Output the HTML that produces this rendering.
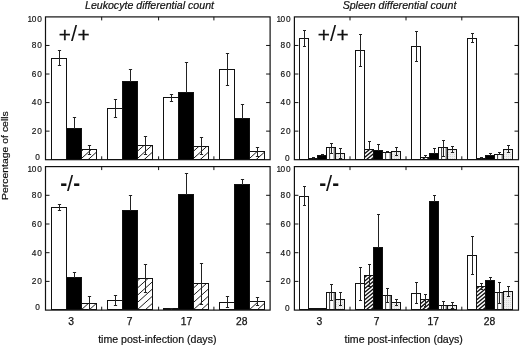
<!DOCTYPE html>
<html><head><meta charset="utf-8"><title>Differential count</title>
<style>
html,body{margin:0;padding:0;background:#fff;}
body{width:520px;height:347px;overflow:hidden;font-family:"Liberation Sans",sans-serif;}
svg{display:block;will-change:transform;}
text{font-family:"Liberation Sans",sans-serif;fill:#111;}
.t{stroke:#111;stroke-width:1;}
.e{stroke:#222;stroke-width:1;}
.yl{font-size:8.3px;text-anchor:end;letter-spacing:0.9px;stroke:#111;stroke-width:0.15px;}
.xl{font-size:10.3px;text-anchor:middle;stroke:#111;stroke-width:0.25px;}
.ax{font-size:10.6px;text-anchor:middle;stroke:#111;stroke-width:0.2px;}
.ti{font-size:10.6px;font-style:italic;text-anchor:middle;stroke:#111;stroke-width:0.2px;}
.gp{font-size:22px;}
.pl{font-size:20.8px;text-anchor:middle;stroke:#111;stroke-width:0.3px;}
.hy{stroke:#111;stroke-width:0.5px;}
</style></head>
<body>
<svg width="520" height="347" viewBox="0 0 520 347">
<defs>
<pattern id="h1" width="5" height="5" patternUnits="userSpaceOnUse" patternTransform="rotate(-50)">
<rect width="5" height="5" fill="#fff"/><line x1="0" y1="2.5" x2="5" y2="2.5" stroke="#111" stroke-width="1.1"/></pattern>
<pattern id="h2" width="2.5" height="2.5" patternUnits="userSpaceOnUse" patternTransform="rotate(-45)">
<rect width="2.5" height="2.5" fill="#fff"/><line x1="0" y1="1.25" x2="2.5" y2="1.25" stroke="#111" stroke-width="1.25"/></pattern>
<pattern id="vs" width="3" height="3" patternUnits="userSpaceOnUse">
<rect width="3" height="3" fill="#fff"/></pattern>
<pattern id="gd" width="2" height="2" patternUnits="userSpaceOnUse">
<rect width="2" height="2" fill="#f0f0f0"/><rect width="1" height="1" fill="#d6d6d6"/></pattern>
</defs>
<rect width="520" height="347" fill="#fff"/>
<rect x="45.5" y="16.9" width="224.60000000000002" height="142.79999999999998" fill="#fff" stroke="#111" stroke-width="1.2"/>
<line x1="45.5" y1="131.14" x2="49.5" y2="131.14" class="t"/>
<line x1="270.1" y1="131.14" x2="266.1" y2="131.14" class="t"/>
<line x1="45.5" y1="102.58" x2="49.5" y2="102.58" class="t"/>
<line x1="270.1" y1="102.58" x2="266.1" y2="102.58" class="t"/>
<line x1="45.5" y1="74.02" x2="49.5" y2="74.02" class="t"/>
<line x1="270.1" y1="74.02" x2="266.1" y2="74.02" class="t"/>
<line x1="45.5" y1="45.46" x2="49.5" y2="45.46" class="t"/>
<line x1="270.1" y1="45.46" x2="266.1" y2="45.46" class="t"/>
<line x1="101.7" y1="16.9" x2="101.7" y2="20.4" class="t"/>
<line x1="101.7" y1="159.7" x2="101.7" y2="156.29999999999998" class="t"/>
<line x1="158.6" y1="16.9" x2="158.6" y2="20.4" class="t"/>
<line x1="158.6" y1="159.7" x2="158.6" y2="156.29999999999998" class="t"/>
<line x1="213.9" y1="16.9" x2="213.9" y2="20.4" class="t"/>
<line x1="213.9" y1="159.7" x2="213.9" y2="156.29999999999998" class="t"/>
<text x="40.75" y="159.70" class="yl">0</text>
<text x="42.75" y="133.94" class="yl">20</text>
<text x="42.75" y="105.38" class="yl">40</text>
<text x="42.75" y="76.82" class="yl">60</text>
<text x="42.75" y="48.26" class="yl">80</text>
<text x="42.75" y="22.10" class="yl"><tspan letter-spacing="-0.4">1</tspan>00</text>
<rect x="45.5" y="166.6" width="224.60000000000002" height="143.50000000000003" fill="#fff" stroke="#111" stroke-width="1.2"/>
<line x1="45.5" y1="281.40" x2="49.5" y2="281.40" class="t"/>
<line x1="270.1" y1="281.40" x2="266.1" y2="281.40" class="t"/>
<line x1="45.5" y1="252.70" x2="49.5" y2="252.70" class="t"/>
<line x1="270.1" y1="252.70" x2="266.1" y2="252.70" class="t"/>
<line x1="45.5" y1="224.00" x2="49.5" y2="224.00" class="t"/>
<line x1="270.1" y1="224.00" x2="266.1" y2="224.00" class="t"/>
<line x1="45.5" y1="195.30" x2="49.5" y2="195.30" class="t"/>
<line x1="270.1" y1="195.30" x2="266.1" y2="195.30" class="t"/>
<line x1="101.7" y1="166.6" x2="101.7" y2="170.1" class="t"/>
<line x1="101.7" y1="310.1" x2="101.7" y2="306.70000000000005" class="t"/>
<line x1="158.6" y1="166.6" x2="158.6" y2="170.1" class="t"/>
<line x1="158.6" y1="310.1" x2="158.6" y2="306.70000000000005" class="t"/>
<line x1="213.9" y1="166.6" x2="213.9" y2="170.1" class="t"/>
<line x1="213.9" y1="310.1" x2="213.9" y2="306.70000000000005" class="t"/>
<text x="40.75" y="310.10" class="yl">0</text>
<text x="42.75" y="284.20" class="yl">20</text>
<text x="42.75" y="255.50" class="yl">40</text>
<text x="42.75" y="226.80" class="yl">60</text>
<text x="42.75" y="198.10" class="yl">80</text>
<text x="42.75" y="171.80" class="yl"><tspan letter-spacing="-0.4">1</tspan>00</text>
<rect x="294.4" y="16.9" width="224.10000000000002" height="142.79999999999998" fill="#fff" stroke="#111" stroke-width="1.2"/>
<line x1="294.4" y1="131.14" x2="298.4" y2="131.14" class="t"/>
<line x1="518.5" y1="131.14" x2="514.5" y2="131.14" class="t"/>
<line x1="294.4" y1="102.58" x2="298.4" y2="102.58" class="t"/>
<line x1="518.5" y1="102.58" x2="514.5" y2="102.58" class="t"/>
<line x1="294.4" y1="74.02" x2="298.4" y2="74.02" class="t"/>
<line x1="518.5" y1="74.02" x2="514.5" y2="74.02" class="t"/>
<line x1="294.4" y1="45.46" x2="298.4" y2="45.46" class="t"/>
<line x1="518.5" y1="45.46" x2="514.5" y2="45.46" class="t"/>
<line x1="350.0" y1="16.9" x2="350.0" y2="20.4" class="t"/>
<line x1="350.0" y1="159.7" x2="350.0" y2="156.29999999999998" class="t"/>
<line x1="406.0" y1="16.9" x2="406.0" y2="20.4" class="t"/>
<line x1="406.0" y1="159.7" x2="406.0" y2="156.29999999999998" class="t"/>
<line x1="461.8" y1="16.9" x2="461.8" y2="20.4" class="t"/>
<line x1="461.8" y1="159.7" x2="461.8" y2="156.29999999999998" class="t"/>
<text x="290.55" y="160.80" class="yl">0</text>
<text x="291.65" y="133.94" class="yl">20</text>
<text x="291.65" y="105.38" class="yl">40</text>
<text x="291.65" y="76.82" class="yl">60</text>
<text x="291.65" y="48.26" class="yl">80</text>
<text x="291.65" y="22.10" class="yl"><tspan letter-spacing="-0.4">1</tspan>00</text>
<rect x="294.4" y="166.6" width="224.10000000000002" height="143.50000000000003" fill="#fff" stroke="#111" stroke-width="1.2"/>
<line x1="294.4" y1="281.40" x2="298.4" y2="281.40" class="t"/>
<line x1="518.5" y1="281.40" x2="514.5" y2="281.40" class="t"/>
<line x1="294.4" y1="252.70" x2="298.4" y2="252.70" class="t"/>
<line x1="518.5" y1="252.70" x2="514.5" y2="252.70" class="t"/>
<line x1="294.4" y1="224.00" x2="298.4" y2="224.00" class="t"/>
<line x1="518.5" y1="224.00" x2="514.5" y2="224.00" class="t"/>
<line x1="294.4" y1="195.30" x2="298.4" y2="195.30" class="t"/>
<line x1="518.5" y1="195.30" x2="514.5" y2="195.30" class="t"/>
<line x1="350.0" y1="166.6" x2="350.0" y2="170.1" class="t"/>
<line x1="350.0" y1="310.1" x2="350.0" y2="306.70000000000005" class="t"/>
<line x1="406.0" y1="166.6" x2="406.0" y2="170.1" class="t"/>
<line x1="406.0" y1="310.1" x2="406.0" y2="306.70000000000005" class="t"/>
<line x1="461.8" y1="166.6" x2="461.8" y2="170.1" class="t"/>
<line x1="461.8" y1="310.1" x2="461.8" y2="306.70000000000005" class="t"/>
<text x="290.55" y="310.90" class="yl">0</text>
<text x="291.65" y="284.20" class="yl">20</text>
<text x="291.65" y="255.50" class="yl">40</text>
<text x="291.65" y="226.80" class="yl">60</text>
<text x="291.65" y="198.10" class="yl">80</text>
<text x="291.65" y="171.80" class="yl"><tspan letter-spacing="-0.4">1</tspan>00</text>
<rect x="51.5" y="58.5" width="15.0" height="101.0" fill="#fff" stroke="#111" stroke-width="1"/>
<line x1="59.5" y1="50.0" x2="59.5" y2="66.0" class="e"/>
<line x1="57.9" y1="50.5" x2="61.1" y2="50.5" class="e"/>
<line x1="57.9" y1="65.5" x2="61.1" y2="65.5" class="e"/>
<rect x="66.5" y="128.5" width="15.0" height="31.0" fill="#000" stroke="#111" stroke-width="1"/>
<line x1="74.5" y1="117.0" x2="74.5" y2="129.0" class="e"/>
<line x1="72.9" y1="117.5" x2="76.1" y2="117.5" class="e"/>
<clipPath id="c1"><rect x="81.5" y="149.5" width="15.0" height="10.0"/></clipPath>
<rect x="81.5" y="149.5" width="15.0" height="10.0" fill="#fff"/>
<g clip-path="url(#c1)" stroke="#111" stroke-width="0.95">
<line x1="80.5" y1="144.90" x2="97.5" y2="129.59"/>
<line x1="80.5" y1="152.10" x2="97.5" y2="136.79"/>
<line x1="80.5" y1="159.30" x2="97.5" y2="143.99"/>
<line x1="80.5" y1="166.50" x2="97.5" y2="151.19"/>
<line x1="80.5" y1="173.70" x2="97.5" y2="158.39"/>
<line x1="80.5" y1="180.90" x2="97.5" y2="165.59"/>
</g>
<rect x="81.5" y="149.5" width="15.0" height="10.0" fill="none" stroke="#111" stroke-width="1"/>
<line x1="89.5" y1="145.0" x2="89.5" y2="155.0" class="e"/>
<line x1="87.9" y1="145.5" x2="91.1" y2="145.5" class="e"/>
<line x1="87.9" y1="154.5" x2="91.1" y2="154.5" class="e"/>
<rect x="107.5" y="108.5" width="15.0" height="51.0" fill="#fff" stroke="#111" stroke-width="1"/>
<line x1="115.5" y1="99.0" x2="115.5" y2="118.0" class="e"/>
<line x1="113.9" y1="99.5" x2="117.1" y2="99.5" class="e"/>
<line x1="113.9" y1="117.5" x2="117.1" y2="117.5" class="e"/>
<rect x="122.5" y="81.5" width="15.0" height="78.0" fill="#000" stroke="#111" stroke-width="1"/>
<line x1="130.5" y1="69.0" x2="130.5" y2="82.0" class="e"/>
<line x1="128.9" y1="69.5" x2="132.1" y2="69.5" class="e"/>
<clipPath id="c2"><rect x="137.5" y="145.5" width="15.0" height="14.0"/></clipPath>
<rect x="137.5" y="145.5" width="15.0" height="14.0" fill="#fff"/>
<g clip-path="url(#c2)" stroke="#111" stroke-width="0.95">
<line x1="136.5" y1="137.70" x2="153.5" y2="122.39"/>
<line x1="136.5" y1="144.90" x2="153.5" y2="129.59"/>
<line x1="136.5" y1="152.10" x2="153.5" y2="136.79"/>
<line x1="136.5" y1="159.30" x2="153.5" y2="143.99"/>
<line x1="136.5" y1="166.50" x2="153.5" y2="151.19"/>
<line x1="136.5" y1="173.70" x2="153.5" y2="158.39"/>
<line x1="136.5" y1="180.90" x2="153.5" y2="165.59"/>
</g>
<rect x="137.5" y="145.5" width="15.0" height="14.0" fill="none" stroke="#111" stroke-width="1"/>
<line x1="145.5" y1="136.0" x2="145.5" y2="155.0" class="e"/>
<line x1="143.9" y1="136.5" x2="147.1" y2="136.5" class="e"/>
<line x1="143.9" y1="154.5" x2="147.1" y2="154.5" class="e"/>
<rect x="163.5" y="97.5" width="15.0" height="62.0" fill="#fff" stroke="#111" stroke-width="1"/>
<line x1="171.5" y1="94.0" x2="171.5" y2="102.0" class="e"/>
<line x1="169.9" y1="94.5" x2="173.1" y2="94.5" class="e"/>
<line x1="169.9" y1="101.5" x2="173.1" y2="101.5" class="e"/>
<rect x="178.5" y="92.5" width="15.0" height="67.0" fill="#000" stroke="#111" stroke-width="1"/>
<line x1="186.5" y1="62.0" x2="186.5" y2="93.0" class="e"/>
<line x1="184.9" y1="62.5" x2="188.1" y2="62.5" class="e"/>
<clipPath id="c3"><rect x="193.5" y="146.5" width="15.0" height="13.0"/></clipPath>
<rect x="193.5" y="146.5" width="15.0" height="13.0" fill="#fff"/>
<g clip-path="url(#c3)" stroke="#111" stroke-width="0.95">
<line x1="192.5" y1="144.90" x2="209.5" y2="129.59"/>
<line x1="192.5" y1="152.10" x2="209.5" y2="136.79"/>
<line x1="192.5" y1="159.30" x2="209.5" y2="143.99"/>
<line x1="192.5" y1="166.50" x2="209.5" y2="151.19"/>
<line x1="192.5" y1="173.70" x2="209.5" y2="158.39"/>
<line x1="192.5" y1="180.90" x2="209.5" y2="165.59"/>
</g>
<rect x="193.5" y="146.5" width="15.0" height="13.0" fill="none" stroke="#111" stroke-width="1"/>
<line x1="201.5" y1="137.0" x2="201.5" y2="155.0" class="e"/>
<line x1="199.9" y1="137.5" x2="203.1" y2="137.5" class="e"/>
<line x1="199.9" y1="154.5" x2="203.1" y2="154.5" class="e"/>
<rect x="219.5" y="69.5" width="15.0" height="90.0" fill="#fff" stroke="#111" stroke-width="1"/>
<line x1="227.5" y1="53.0" x2="227.5" y2="86.0" class="e"/>
<line x1="225.9" y1="53.5" x2="229.1" y2="53.5" class="e"/>
<line x1="225.9" y1="85.5" x2="229.1" y2="85.5" class="e"/>
<rect x="234.5" y="118.5" width="15.0" height="41.0" fill="#000" stroke="#111" stroke-width="1"/>
<line x1="242.5" y1="104.0" x2="242.5" y2="119.0" class="e"/>
<line x1="240.9" y1="104.5" x2="244.1" y2="104.5" class="e"/>
<clipPath id="c4"><rect x="249.5" y="151.5" width="15.0" height="8.0"/></clipPath>
<rect x="249.5" y="151.5" width="15.0" height="8.0" fill="#fff"/>
<g clip-path="url(#c4)" stroke="#111" stroke-width="0.95">
<line x1="248.5" y1="144.90" x2="265.5" y2="129.59"/>
<line x1="248.5" y1="152.10" x2="265.5" y2="136.79"/>
<line x1="248.5" y1="159.30" x2="265.5" y2="143.99"/>
<line x1="248.5" y1="166.50" x2="265.5" y2="151.19"/>
<line x1="248.5" y1="173.70" x2="265.5" y2="158.39"/>
<line x1="248.5" y1="180.90" x2="265.5" y2="165.59"/>
</g>
<rect x="249.5" y="151.5" width="15.0" height="8.0" fill="none" stroke="#111" stroke-width="1"/>
<line x1="257.5" y1="147.0" x2="257.5" y2="157.0" class="e"/>
<line x1="255.89999999999998" y1="147.5" x2="259.1" y2="147.5" class="e"/>
<line x1="255.89999999999998" y1="156.5" x2="259.1" y2="156.5" class="e"/>
<rect x="51.5" y="207.5" width="15.0" height="102.0" fill="#fff" stroke="#111" stroke-width="1"/>
<line x1="59.5" y1="204.0" x2="59.5" y2="211.0" class="e"/>
<line x1="57.9" y1="204.5" x2="61.1" y2="204.5" class="e"/>
<line x1="57.9" y1="210.5" x2="61.1" y2="210.5" class="e"/>
<rect x="66.5" y="277.5" width="15.0" height="32.0" fill="#000" stroke="#111" stroke-width="1"/>
<line x1="74.5" y1="272.0" x2="74.5" y2="278.0" class="e"/>
<line x1="72.9" y1="272.5" x2="76.1" y2="272.5" class="e"/>
<clipPath id="c5"><rect x="81.5" y="303.5" width="15.0" height="6.0"/></clipPath>
<rect x="81.5" y="303.5" width="15.0" height="6.0" fill="#fff"/>
<g clip-path="url(#c5)" stroke="#111" stroke-width="0.95">
<line x1="80.5" y1="296.10" x2="97.5" y2="280.79"/>
<line x1="80.5" y1="303.30" x2="97.5" y2="287.99"/>
<line x1="80.5" y1="310.50" x2="97.5" y2="295.19"/>
<line x1="80.5" y1="317.70" x2="97.5" y2="302.39"/>
<line x1="80.5" y1="324.90" x2="97.5" y2="309.59"/>
<line x1="80.5" y1="332.10" x2="97.5" y2="316.79"/>
</g>
<rect x="81.5" y="303.5" width="15.0" height="6.0" fill="none" stroke="#111" stroke-width="1"/>
<line x1="89.5" y1="296.0" x2="89.5" y2="310.0" class="e"/>
<line x1="87.9" y1="296.5" x2="91.1" y2="296.5" class="e"/>
<line x1="87.9" y1="309.5" x2="91.1" y2="309.5" class="e"/>
<rect x="107.5" y="300.5" width="15.0" height="9.0" fill="#fff" stroke="#111" stroke-width="1"/>
<line x1="115.5" y1="295.0" x2="115.5" y2="306.0" class="e"/>
<line x1="113.9" y1="295.5" x2="117.1" y2="295.5" class="e"/>
<line x1="113.9" y1="305.5" x2="117.1" y2="305.5" class="e"/>
<rect x="122.5" y="210.5" width="15.0" height="99.0" fill="#000" stroke="#111" stroke-width="1"/>
<line x1="130.5" y1="195.0" x2="130.5" y2="211.0" class="e"/>
<line x1="128.9" y1="195.5" x2="132.1" y2="195.5" class="e"/>
<clipPath id="c6"><rect x="137.5" y="278.5" width="15.0" height="31.0"/></clipPath>
<rect x="137.5" y="278.5" width="15.0" height="31.0" fill="#fff"/>
<g clip-path="url(#c6)" stroke="#111" stroke-width="0.95">
<line x1="136.5" y1="274.50" x2="153.5" y2="259.19"/>
<line x1="136.5" y1="281.70" x2="153.5" y2="266.39"/>
<line x1="136.5" y1="288.90" x2="153.5" y2="273.59"/>
<line x1="136.5" y1="296.10" x2="153.5" y2="280.79"/>
<line x1="136.5" y1="303.30" x2="153.5" y2="287.99"/>
<line x1="136.5" y1="310.50" x2="153.5" y2="295.19"/>
<line x1="136.5" y1="317.70" x2="153.5" y2="302.39"/>
<line x1="136.5" y1="324.90" x2="153.5" y2="309.59"/>
<line x1="136.5" y1="332.10" x2="153.5" y2="316.79"/>
</g>
<rect x="137.5" y="278.5" width="15.0" height="31.0" fill="none" stroke="#111" stroke-width="1"/>
<line x1="145.5" y1="264.0" x2="145.5" y2="293.0" class="e"/>
<line x1="143.9" y1="264.5" x2="147.1" y2="264.5" class="e"/>
<line x1="143.9" y1="292.5" x2="147.1" y2="292.5" class="e"/>
<rect x="163.5" y="308.5" width="15.0" height="1.0" fill="#fff" stroke="#111" stroke-width="1"/>
<line x1="171.5" y1="308.0" x2="171.5" y2="310.0" class="e"/>
<line x1="169.9" y1="308.5" x2="173.1" y2="308.5" class="e"/>
<rect x="178.5" y="194.5" width="15.0" height="115.0" fill="#000" stroke="#111" stroke-width="1"/>
<line x1="186.5" y1="173.0" x2="186.5" y2="195.0" class="e"/>
<line x1="184.9" y1="173.5" x2="188.1" y2="173.5" class="e"/>
<clipPath id="c7"><rect x="193.5" y="283.5" width="15.0" height="26.0"/></clipPath>
<rect x="193.5" y="283.5" width="15.0" height="26.0" fill="#fff"/>
<g clip-path="url(#c7)" stroke="#111" stroke-width="0.95">
<line x1="192.5" y1="281.70" x2="209.5" y2="266.39"/>
<line x1="192.5" y1="288.90" x2="209.5" y2="273.59"/>
<line x1="192.5" y1="296.10" x2="209.5" y2="280.79"/>
<line x1="192.5" y1="303.30" x2="209.5" y2="287.99"/>
<line x1="192.5" y1="310.50" x2="209.5" y2="295.19"/>
<line x1="192.5" y1="317.70" x2="209.5" y2="302.39"/>
<line x1="192.5" y1="324.90" x2="209.5" y2="309.59"/>
<line x1="192.5" y1="332.10" x2="209.5" y2="316.79"/>
</g>
<rect x="193.5" y="283.5" width="15.0" height="26.0" fill="none" stroke="#111" stroke-width="1"/>
<line x1="201.5" y1="263.0" x2="201.5" y2="305.0" class="e"/>
<line x1="199.9" y1="263.5" x2="203.1" y2="263.5" class="e"/>
<line x1="199.9" y1="304.5" x2="203.1" y2="304.5" class="e"/>
<rect x="219.5" y="302.5" width="15.0" height="7.0" fill="#fff" stroke="#111" stroke-width="1"/>
<line x1="227.5" y1="296.0" x2="227.5" y2="308.0" class="e"/>
<line x1="225.9" y1="296.5" x2="229.1" y2="296.5" class="e"/>
<line x1="225.9" y1="307.5" x2="229.1" y2="307.5" class="e"/>
<rect x="234.5" y="184.5" width="15.0" height="125.0" fill="#000" stroke="#111" stroke-width="1"/>
<line x1="242.5" y1="179.0" x2="242.5" y2="185.0" class="e"/>
<line x1="240.9" y1="179.5" x2="244.1" y2="179.5" class="e"/>
<clipPath id="c8"><rect x="249.5" y="301.5" width="15.0" height="8.0"/></clipPath>
<rect x="249.5" y="301.5" width="15.0" height="8.0" fill="#fff"/>
<g clip-path="url(#c8)" stroke="#111" stroke-width="0.95">
<line x1="248.5" y1="296.10" x2="265.5" y2="280.79"/>
<line x1="248.5" y1="303.30" x2="265.5" y2="287.99"/>
<line x1="248.5" y1="310.50" x2="265.5" y2="295.19"/>
<line x1="248.5" y1="317.70" x2="265.5" y2="302.39"/>
<line x1="248.5" y1="324.90" x2="265.5" y2="309.59"/>
<line x1="248.5" y1="332.10" x2="265.5" y2="316.79"/>
</g>
<rect x="249.5" y="301.5" width="15.0" height="8.0" fill="none" stroke="#111" stroke-width="1"/>
<line x1="257.5" y1="297.0" x2="257.5" y2="306.0" class="e"/>
<line x1="255.89999999999998" y1="297.5" x2="259.1" y2="297.5" class="e"/>
<line x1="255.89999999999998" y1="305.5" x2="259.1" y2="305.5" class="e"/>
<rect x="299.5" y="38.5" width="9.0" height="121.0" fill="#fff" stroke="#111" stroke-width="1"/>
<line x1="304.5" y1="30.0" x2="304.5" y2="47.0" class="e"/>
<line x1="303.0" y1="30.5" x2="306.0" y2="30.5" class="e"/>
<line x1="303.0" y1="46.5" x2="306.0" y2="46.5" class="e"/>
<clipPath id="c9"><rect x="308.5" y="158.5" width="9.0" height="1.0"/></clipPath>
<rect x="308.5" y="158.5" width="9.0" height="1.0" fill="#fff"/>
<g clip-path="url(#c9)" stroke="#111" stroke-width="1.3">
<line x1="307.5" y1="154.59" x2="318.5" y2="145.36"/>
<line x1="307.5" y1="158.34" x2="318.5" y2="149.11"/>
<line x1="307.5" y1="162.09" x2="318.5" y2="152.86"/>
<line x1="307.5" y1="165.84" x2="318.5" y2="156.61"/>
<line x1="307.5" y1="169.59" x2="318.5" y2="160.36"/>
<line x1="307.5" y1="173.34" x2="318.5" y2="164.11"/>
</g>
<rect x="308.5" y="158.5" width="9.0" height="1.0" fill="none" stroke="#111" stroke-width="1"/>
<line x1="313.5" y1="157.0" x2="313.5" y2="159.0" class="e"/>
<line x1="312.0" y1="157.5" x2="315.0" y2="157.5" class="e"/>
<rect x="317.5" y="155.5" width="9.0" height="4.0" fill="#000" stroke="#111" stroke-width="1"/>
<line x1="322.5" y1="154.0" x2="322.5" y2="156.0" class="e"/>
<line x1="321.0" y1="154.5" x2="324.0" y2="154.5" class="e"/>
<rect x="326.5" y="147.5" width="9.0" height="12.0" fill="#fff" stroke="#111" stroke-width="1"/>
<line x1="329.60" y1="147.5" x2="329.60" y2="159.5" stroke="#222" stroke-width="0.9"/>
<line x1="334.20" y1="147.5" x2="334.20" y2="159.5" stroke="#222" stroke-width="0.9"/>
<line x1="331.5" y1="143.0" x2="331.5" y2="154.0" class="e"/>
<line x1="330.0" y1="143.5" x2="333.0" y2="143.5" class="e"/>
<line x1="330.0" y1="153.5" x2="333.0" y2="153.5" class="e"/>
<rect x="335.5" y="153.5" width="9.0" height="6.0" fill="url(#gd)" stroke="#111" stroke-width="1"/>
<line x1="340.5" y1="148.0" x2="340.5" y2="159.0" class="e"/>
<line x1="339.0" y1="148.5" x2="342.0" y2="148.5" class="e"/>
<line x1="339.0" y1="158.5" x2="342.0" y2="158.5" class="e"/>
<rect x="355.5" y="50.5" width="9.0" height="109.0" fill="#fff" stroke="#111" stroke-width="1"/>
<line x1="360.5" y1="34.0" x2="360.5" y2="67.0" class="e"/>
<line x1="359.0" y1="34.5" x2="362.0" y2="34.5" class="e"/>
<line x1="359.0" y1="66.5" x2="362.0" y2="66.5" class="e"/>
<clipPath id="c10"><rect x="364.5" y="149.5" width="9.0" height="10.0"/></clipPath>
<rect x="364.5" y="149.5" width="9.0" height="10.0" fill="#fff"/>
<g clip-path="url(#c10)" stroke="#111" stroke-width="1.3">
<line x1="363.5" y1="147.09" x2="374.5" y2="137.86"/>
<line x1="363.5" y1="150.84" x2="374.5" y2="141.61"/>
<line x1="363.5" y1="154.59" x2="374.5" y2="145.36"/>
<line x1="363.5" y1="158.34" x2="374.5" y2="149.11"/>
<line x1="363.5" y1="162.09" x2="374.5" y2="152.86"/>
<line x1="363.5" y1="165.84" x2="374.5" y2="156.61"/>
<line x1="363.5" y1="169.59" x2="374.5" y2="160.36"/>
<line x1="363.5" y1="173.34" x2="374.5" y2="164.11"/>
</g>
<rect x="364.5" y="149.5" width="9.0" height="10.0" fill="none" stroke="#111" stroke-width="1"/>
<line x1="369.5" y1="141.0" x2="369.5" y2="150.0" class="e"/>
<line x1="368.0" y1="141.5" x2="371.0" y2="141.5" class="e"/>
<rect x="373.5" y="150.5" width="9.0" height="9.0" fill="#000" stroke="#111" stroke-width="1"/>
<line x1="378.5" y1="144.0" x2="378.5" y2="151.0" class="e"/>
<line x1="377.0" y1="144.5" x2="380.0" y2="144.5" class="e"/>
<rect x="382.5" y="152.5" width="9.0" height="7.0" fill="#fff" stroke="#111" stroke-width="1"/>
<line x1="385.60" y1="152.5" x2="385.60" y2="159.5" stroke="#222" stroke-width="0.9"/>
<line x1="390.20" y1="152.5" x2="390.20" y2="159.5" stroke="#222" stroke-width="0.9"/>
<line x1="387.5" y1="151.0" x2="387.5" y2="153.0" class="e"/>
<line x1="386.0" y1="151.5" x2="389.0" y2="151.5" class="e"/>
<rect x="391.5" y="151.5" width="9.0" height="8.0" fill="url(#gd)" stroke="#111" stroke-width="1"/>
<line x1="396.5" y1="147.0" x2="396.5" y2="156.0" class="e"/>
<line x1="395.0" y1="147.5" x2="398.0" y2="147.5" class="e"/>
<line x1="395.0" y1="155.5" x2="398.0" y2="155.5" class="e"/>
<rect x="411.5" y="46.5" width="9.0" height="113.0" fill="#fff" stroke="#111" stroke-width="1"/>
<line x1="416.5" y1="31.0" x2="416.5" y2="62.0" class="e"/>
<line x1="415.0" y1="31.5" x2="418.0" y2="31.5" class="e"/>
<line x1="415.0" y1="61.5" x2="418.0" y2="61.5" class="e"/>
<clipPath id="c11"><rect x="420.5" y="157.5" width="9.0" height="2.0"/></clipPath>
<rect x="420.5" y="157.5" width="9.0" height="2.0" fill="#fff"/>
<g clip-path="url(#c11)" stroke="#111" stroke-width="1.3">
<line x1="419.5" y1="154.59" x2="430.5" y2="145.36"/>
<line x1="419.5" y1="158.34" x2="430.5" y2="149.11"/>
<line x1="419.5" y1="162.09" x2="430.5" y2="152.86"/>
<line x1="419.5" y1="165.84" x2="430.5" y2="156.61"/>
<line x1="419.5" y1="169.59" x2="430.5" y2="160.36"/>
<line x1="419.5" y1="173.34" x2="430.5" y2="164.11"/>
</g>
<rect x="420.5" y="157.5" width="9.0" height="2.0" fill="none" stroke="#111" stroke-width="1"/>
<line x1="425.5" y1="155.0" x2="425.5" y2="158.0" class="e"/>
<line x1="424.0" y1="155.5" x2="427.0" y2="155.5" class="e"/>
<rect x="429.5" y="153.5" width="9.0" height="6.0" fill="#000" stroke="#111" stroke-width="1"/>
<line x1="434.5" y1="148.0" x2="434.5" y2="154.0" class="e"/>
<line x1="433.0" y1="148.5" x2="436.0" y2="148.5" class="e"/>
<rect x="438.5" y="147.5" width="9.0" height="12.0" fill="#fff" stroke="#111" stroke-width="1"/>
<line x1="441.60" y1="147.5" x2="441.60" y2="159.5" stroke="#222" stroke-width="0.9"/>
<line x1="446.20" y1="147.5" x2="446.20" y2="159.5" stroke="#222" stroke-width="0.9"/>
<line x1="443.5" y1="140.0" x2="443.5" y2="157.0" class="e"/>
<line x1="442.0" y1="140.5" x2="445.0" y2="140.5" class="e"/>
<line x1="442.0" y1="156.5" x2="445.0" y2="156.5" class="e"/>
<rect x="447.5" y="149.5" width="9.0" height="10.0" fill="url(#gd)" stroke="#111" stroke-width="1"/>
<line x1="452.5" y1="146.0" x2="452.5" y2="153.0" class="e"/>
<line x1="451.0" y1="146.5" x2="454.0" y2="146.5" class="e"/>
<line x1="451.0" y1="152.5" x2="454.0" y2="152.5" class="e"/>
<rect x="467.5" y="38.5" width="9.0" height="121.0" fill="#fff" stroke="#111" stroke-width="1"/>
<line x1="472.5" y1="33.0" x2="472.5" y2="43.0" class="e"/>
<line x1="471.0" y1="33.5" x2="474.0" y2="33.5" class="e"/>
<line x1="471.0" y1="42.5" x2="474.0" y2="42.5" class="e"/>
<clipPath id="c12"><rect x="476.5" y="158.5" width="9.0" height="1.0"/></clipPath>
<rect x="476.5" y="158.5" width="9.0" height="1.0" fill="#fff"/>
<g clip-path="url(#c12)" stroke="#111" stroke-width="1.3">
<line x1="475.5" y1="154.59" x2="486.5" y2="145.36"/>
<line x1="475.5" y1="158.34" x2="486.5" y2="149.11"/>
<line x1="475.5" y1="162.09" x2="486.5" y2="152.86"/>
<line x1="475.5" y1="165.84" x2="486.5" y2="156.61"/>
<line x1="475.5" y1="169.59" x2="486.5" y2="160.36"/>
<line x1="475.5" y1="173.34" x2="486.5" y2="164.11"/>
</g>
<rect x="476.5" y="158.5" width="9.0" height="1.0" fill="none" stroke="#111" stroke-width="1"/>
<line x1="481.5" y1="157.0" x2="481.5" y2="159.0" class="e"/>
<line x1="480.0" y1="157.5" x2="483.0" y2="157.5" class="e"/>
<rect x="485.5" y="155.5" width="9.0" height="4.0" fill="#000" stroke="#111" stroke-width="1"/>
<line x1="490.5" y1="153.0" x2="490.5" y2="156.0" class="e"/>
<line x1="489.0" y1="153.5" x2="492.0" y2="153.5" class="e"/>
<rect x="494.5" y="154.5" width="9.0" height="5.0" fill="#fff" stroke="#111" stroke-width="1"/>
<line x1="497.60" y1="154.5" x2="497.60" y2="159.5" stroke="#222" stroke-width="0.9"/>
<line x1="502.20" y1="154.5" x2="502.20" y2="159.5" stroke="#222" stroke-width="0.9"/>
<line x1="499.5" y1="152.0" x2="499.5" y2="155.0" class="e"/>
<line x1="498.0" y1="152.5" x2="501.0" y2="152.5" class="e"/>
<rect x="503.5" y="149.5" width="9.0" height="10.0" fill="url(#gd)" stroke="#111" stroke-width="1"/>
<line x1="508.5" y1="145.0" x2="508.5" y2="153.0" class="e"/>
<line x1="507.0" y1="145.5" x2="510.0" y2="145.5" class="e"/>
<line x1="507.0" y1="152.5" x2="510.0" y2="152.5" class="e"/>
<rect x="299.5" y="196.5" width="9.0" height="113.0" fill="#fff" stroke="#111" stroke-width="1"/>
<line x1="304.5" y1="186.0" x2="304.5" y2="206.0" class="e"/>
<line x1="303.0" y1="186.5" x2="306.0" y2="186.5" class="e"/>
<line x1="303.0" y1="205.5" x2="306.0" y2="205.5" class="e"/>
<clipPath id="c13"><rect x="308.5" y="308.5" width="9.0" height="1.0"/></clipPath>
<rect x="308.5" y="308.5" width="9.0" height="1.0" fill="#fff"/>
<g clip-path="url(#c13)" stroke="#111" stroke-width="1.3">
<line x1="307.5" y1="304.59" x2="318.5" y2="295.36"/>
<line x1="307.5" y1="308.34" x2="318.5" y2="299.11"/>
<line x1="307.5" y1="312.09" x2="318.5" y2="302.86"/>
<line x1="307.5" y1="315.84" x2="318.5" y2="306.61"/>
<line x1="307.5" y1="319.59" x2="318.5" y2="310.36"/>
<line x1="307.5" y1="323.34" x2="318.5" y2="314.11"/>
</g>
<rect x="308.5" y="308.5" width="9.0" height="1.0" fill="none" stroke="#111" stroke-width="1"/>
<rect x="317.5" y="308.5" width="9.0" height="1.0" fill="#000" stroke="#111" stroke-width="1"/>
<rect x="326.5" y="292.5" width="9.0" height="17.0" fill="#fff" stroke="#111" stroke-width="1"/>
<line x1="329.60" y1="292.5" x2="329.60" y2="309.5" stroke="#222" stroke-width="0.9"/>
<line x1="334.20" y1="292.5" x2="334.20" y2="309.5" stroke="#222" stroke-width="0.9"/>
<line x1="331.5" y1="284.0" x2="331.5" y2="301.0" class="e"/>
<line x1="330.0" y1="284.5" x2="333.0" y2="284.5" class="e"/>
<line x1="330.0" y1="300.5" x2="333.0" y2="300.5" class="e"/>
<rect x="335.5" y="299.5" width="9.0" height="10.0" fill="url(#gd)" stroke="#111" stroke-width="1"/>
<line x1="340.5" y1="292.0" x2="340.5" y2="306.0" class="e"/>
<line x1="339.0" y1="292.5" x2="342.0" y2="292.5" class="e"/>
<line x1="339.0" y1="305.5" x2="342.0" y2="305.5" class="e"/>
<rect x="355.5" y="283.5" width="9.0" height="26.0" fill="#fff" stroke="#111" stroke-width="1"/>
<line x1="360.5" y1="267.0" x2="360.5" y2="301.0" class="e"/>
<line x1="359.0" y1="267.5" x2="362.0" y2="267.5" class="e"/>
<line x1="359.0" y1="300.5" x2="362.0" y2="300.5" class="e"/>
<clipPath id="c14"><rect x="364.5" y="275.5" width="9.0" height="34.0"/></clipPath>
<rect x="364.5" y="275.5" width="9.0" height="34.0" fill="#fff"/>
<g clip-path="url(#c14)" stroke="#111" stroke-width="1.3">
<line x1="363.5" y1="270.84" x2="374.5" y2="261.61"/>
<line x1="363.5" y1="274.59" x2="374.5" y2="265.36"/>
<line x1="363.5" y1="278.34" x2="374.5" y2="269.11"/>
<line x1="363.5" y1="282.09" x2="374.5" y2="272.86"/>
<line x1="363.5" y1="285.84" x2="374.5" y2="276.61"/>
<line x1="363.5" y1="289.59" x2="374.5" y2="280.36"/>
<line x1="363.5" y1="293.34" x2="374.5" y2="284.11"/>
<line x1="363.5" y1="297.09" x2="374.5" y2="287.86"/>
<line x1="363.5" y1="300.84" x2="374.5" y2="291.61"/>
<line x1="363.5" y1="304.59" x2="374.5" y2="295.36"/>
<line x1="363.5" y1="308.34" x2="374.5" y2="299.11"/>
<line x1="363.5" y1="312.09" x2="374.5" y2="302.86"/>
<line x1="363.5" y1="315.84" x2="374.5" y2="306.61"/>
<line x1="363.5" y1="319.59" x2="374.5" y2="310.36"/>
<line x1="363.5" y1="323.34" x2="374.5" y2="314.11"/>
</g>
<rect x="364.5" y="275.5" width="9.0" height="34.0" fill="none" stroke="#111" stroke-width="1"/>
<line x1="369.5" y1="264.0" x2="369.5" y2="287.0" class="e"/>
<line x1="368.0" y1="264.5" x2="371.0" y2="264.5" class="e"/>
<line x1="368.0" y1="286.5" x2="371.0" y2="286.5" class="e"/>
<rect x="373.5" y="247.5" width="9.0" height="62.0" fill="#000" stroke="#111" stroke-width="1"/>
<line x1="378.5" y1="214.0" x2="378.5" y2="248.0" class="e"/>
<line x1="377.0" y1="214.5" x2="380.0" y2="214.5" class="e"/>
<rect x="382.5" y="295.5" width="9.0" height="14.0" fill="#fff" stroke="#111" stroke-width="1"/>
<line x1="385.60" y1="295.5" x2="385.60" y2="309.5" stroke="#222" stroke-width="0.9"/>
<line x1="390.20" y1="295.5" x2="390.20" y2="309.5" stroke="#222" stroke-width="0.9"/>
<line x1="387.5" y1="288.0" x2="387.5" y2="303.0" class="e"/>
<line x1="386.0" y1="288.5" x2="389.0" y2="288.5" class="e"/>
<line x1="386.0" y1="302.5" x2="389.0" y2="302.5" class="e"/>
<rect x="391.5" y="302.5" width="9.0" height="7.0" fill="url(#gd)" stroke="#111" stroke-width="1"/>
<line x1="396.5" y1="299.0" x2="396.5" y2="306.0" class="e"/>
<line x1="395.0" y1="299.5" x2="398.0" y2="299.5" class="e"/>
<line x1="395.0" y1="305.5" x2="398.0" y2="305.5" class="e"/>
<rect x="411.5" y="293.5" width="9.0" height="16.0" fill="#fff" stroke="#111" stroke-width="1"/>
<line x1="416.5" y1="282.0" x2="416.5" y2="304.0" class="e"/>
<line x1="415.0" y1="282.5" x2="418.0" y2="282.5" class="e"/>
<line x1="415.0" y1="303.5" x2="418.0" y2="303.5" class="e"/>
<clipPath id="c15"><rect x="420.5" y="299.5" width="9.0" height="10.0"/></clipPath>
<rect x="420.5" y="299.5" width="9.0" height="10.0" fill="#fff"/>
<g clip-path="url(#c15)" stroke="#111" stroke-width="1.3">
<line x1="419.5" y1="297.09" x2="430.5" y2="287.86"/>
<line x1="419.5" y1="300.84" x2="430.5" y2="291.61"/>
<line x1="419.5" y1="304.59" x2="430.5" y2="295.36"/>
<line x1="419.5" y1="308.34" x2="430.5" y2="299.11"/>
<line x1="419.5" y1="312.09" x2="430.5" y2="302.86"/>
<line x1="419.5" y1="315.84" x2="430.5" y2="306.61"/>
<line x1="419.5" y1="319.59" x2="430.5" y2="310.36"/>
<line x1="419.5" y1="323.34" x2="430.5" y2="314.11"/>
</g>
<rect x="420.5" y="299.5" width="9.0" height="10.0" fill="none" stroke="#111" stroke-width="1"/>
<line x1="425.5" y1="294.0" x2="425.5" y2="307.0" class="e"/>
<line x1="424.0" y1="294.5" x2="427.0" y2="294.5" class="e"/>
<line x1="424.0" y1="306.5" x2="427.0" y2="306.5" class="e"/>
<rect x="429.5" y="201.5" width="9.0" height="108.0" fill="#000" stroke="#111" stroke-width="1"/>
<line x1="434.5" y1="195.0" x2="434.5" y2="202.0" class="e"/>
<line x1="433.0" y1="195.5" x2="436.0" y2="195.5" class="e"/>
<rect x="438.5" y="305.5" width="9.0" height="4.0" fill="#fff" stroke="#111" stroke-width="1"/>
<line x1="441.60" y1="305.5" x2="441.60" y2="309.5" stroke="#222" stroke-width="0.9"/>
<line x1="446.20" y1="305.5" x2="446.20" y2="309.5" stroke="#222" stroke-width="0.9"/>
<line x1="443.5" y1="301.0" x2="443.5" y2="310.0" class="e"/>
<line x1="442.0" y1="301.5" x2="445.0" y2="301.5" class="e"/>
<line x1="442.0" y1="309.5" x2="445.0" y2="309.5" class="e"/>
<rect x="447.5" y="305.5" width="9.0" height="4.0" fill="url(#gd)" stroke="#111" stroke-width="1"/>
<line x1="452.5" y1="302.0" x2="452.5" y2="309.0" class="e"/>
<line x1="451.0" y1="302.5" x2="454.0" y2="302.5" class="e"/>
<line x1="451.0" y1="308.5" x2="454.0" y2="308.5" class="e"/>
<rect x="467.5" y="255.5" width="9.0" height="54.0" fill="#fff" stroke="#111" stroke-width="1"/>
<line x1="472.5" y1="236.0" x2="472.5" y2="275.0" class="e"/>
<line x1="471.0" y1="236.5" x2="474.0" y2="236.5" class="e"/>
<line x1="471.0" y1="274.5" x2="474.0" y2="274.5" class="e"/>
<clipPath id="c16"><rect x="476.5" y="286.5" width="9.0" height="23.0"/></clipPath>
<rect x="476.5" y="286.5" width="9.0" height="23.0" fill="#fff"/>
<g clip-path="url(#c16)" stroke="#111" stroke-width="1.3">
<line x1="475.5" y1="282.09" x2="486.5" y2="272.86"/>
<line x1="475.5" y1="285.84" x2="486.5" y2="276.61"/>
<line x1="475.5" y1="289.59" x2="486.5" y2="280.36"/>
<line x1="475.5" y1="293.34" x2="486.5" y2="284.11"/>
<line x1="475.5" y1="297.09" x2="486.5" y2="287.86"/>
<line x1="475.5" y1="300.84" x2="486.5" y2="291.61"/>
<line x1="475.5" y1="304.59" x2="486.5" y2="295.36"/>
<line x1="475.5" y1="308.34" x2="486.5" y2="299.11"/>
<line x1="475.5" y1="312.09" x2="486.5" y2="302.86"/>
<line x1="475.5" y1="315.84" x2="486.5" y2="306.61"/>
<line x1="475.5" y1="319.59" x2="486.5" y2="310.36"/>
<line x1="475.5" y1="323.34" x2="486.5" y2="314.11"/>
</g>
<rect x="476.5" y="286.5" width="9.0" height="23.0" fill="none" stroke="#111" stroke-width="1"/>
<line x1="481.5" y1="283.0" x2="481.5" y2="290.0" class="e"/>
<line x1="480.0" y1="283.5" x2="483.0" y2="283.5" class="e"/>
<line x1="480.0" y1="289.5" x2="483.0" y2="289.5" class="e"/>
<rect x="485.5" y="280.5" width="9.0" height="29.0" fill="#000" stroke="#111" stroke-width="1"/>
<line x1="490.5" y1="277.0" x2="490.5" y2="281.0" class="e"/>
<line x1="489.0" y1="277.5" x2="492.0" y2="277.5" class="e"/>
<rect x="494.5" y="292.5" width="9.0" height="17.0" fill="#fff" stroke="#111" stroke-width="1"/>
<line x1="497.60" y1="292.5" x2="497.60" y2="309.5" stroke="#222" stroke-width="0.9"/>
<line x1="502.20" y1="292.5" x2="502.20" y2="309.5" stroke="#222" stroke-width="0.9"/>
<line x1="499.5" y1="282.0" x2="499.5" y2="304.0" class="e"/>
<line x1="498.0" y1="282.5" x2="501.0" y2="282.5" class="e"/>
<line x1="498.0" y1="303.5" x2="501.0" y2="303.5" class="e"/>
<rect x="503.5" y="291.5" width="9.0" height="18.0" fill="url(#gd)" stroke="#111" stroke-width="1"/>
<line x1="508.5" y1="286.0" x2="508.5" y2="297.0" class="e"/>
<line x1="507.0" y1="286.5" x2="510.0" y2="286.5" class="e"/>
<line x1="507.0" y1="296.5" x2="510.0" y2="296.5" class="e"/>
<text x="71.2" y="325" class="xl">3</text>
<text x="129.5" y="325" class="xl">7</text>
<text x="186.4" y="325" class="xl">17</text>
<text x="241.8" y="325" class="xl">28</text>
<text x="319.4" y="325" class="xl">3</text>
<text x="376.7" y="325" class="xl">7</text>
<text x="433.2" y="325" class="xl">17</text>
<text x="489.5" y="325" class="xl">28</text>
<text x="157.3" y="343" class="ax">time post-infection (days)</text>
<text x="403.7" y="342.8" class="ax">time post-infection (days)</text>
<text x="149.5" y="9.3" class="ti">Leukocyte differential count</text>
<text x="399.5" y="9.3" class="ti">Spleen differential count</text>
<text transform="translate(8.2,155.6) rotate(-90) scale(1.11,1)" class="ax" style="font-size:9.4px">Percentage of cells</text>
<text x="64.80" y="42.30" class="pl">+</text>
<text x="70.95" y="41.10" class="gp">/</text>
<text x="83.60" y="42.30" class="pl">+</text>
<text x="323.90" y="42.00" class="pl">+</text>
<text x="330.05" y="40.80" class="gp">/</text>
<text x="342.70" y="42.00" class="pl">+</text>
<rect x="61.10" y="183.40" width="5.3" height="2.6" fill="#111"/>
<text x="67.10" y="190.70" class="gp">/</text>
<rect x="74.10" y="183.40" width="5.2" height="2.6" fill="#111"/>
<rect x="320.10" y="183.40" width="5.3" height="2.6" fill="#111"/>
<text x="326.10" y="190.70" class="gp">/</text>
<rect x="333.10" y="183.40" width="5.2" height="2.6" fill="#111"/>
</svg>
</body></html>
